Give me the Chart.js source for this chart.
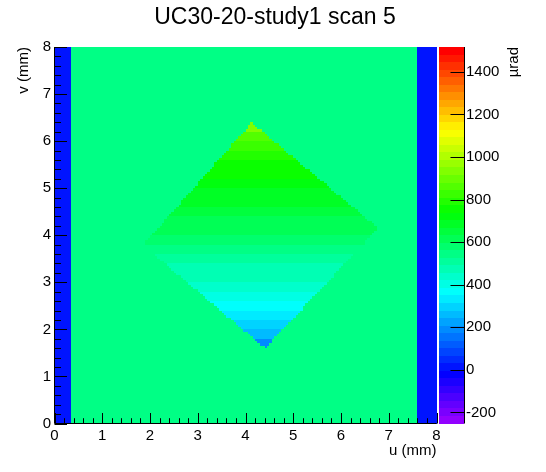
<!DOCTYPE html>
<html>
<head>
<meta charset="utf-8">
<script src="https://cdn.jsdelivr.net/npm/chart.js@4.4.0/dist/chart.umd.min.js"></script>
<style>
  html, body { margin: 0; padding: 0; background: #fff; }
  canvas { display: block; }
</style>
</head>
<body>
<canvas id="scan" width="546" height="472"></canvas>
<script>
// axis ticks
const uTicks = [0, 1, 2, 3, 4, 5, 6, 7, 8];
const vTicks = [0, 1, 2, 3, 4, 5, 6, 7, 8];
const zTicks = [-200, 0, 200, 400, 600, 800, 1000, 1200, 1400];
const zRange = [-252, 1517];
const nBins = 160; // 0.05 mm bins in u and v

// flat parts of the scan (µrad)
const backgroundLevel = 560;
const stripEdges = [0.36, 7.62]; // blue strips left / right of these u
const stripLevel = 10;

// diamond corners: top, right, bottom, left
const diamondU = [4.13, 6.78, 4.41, 1.85];
const diamondV = [6.39, 4.15, 1.60, 3.79];

// level inside the diamond, read along v
const profileV = [1.7, 1.9, 2.1, 2.3, 2.5, 2.7, 2.9, 3.1, 3.3, 3.5, 3.7, 3.9,
                  4.1, 4.3, 4.5, 4.7, 4.9, 5.1, 5.3, 5.5, 5.7, 5.9, 6.1, 6.3];
const profileLevel = [190, 250, 290, 320, 370, 400, 430, 460, 490, 510, 540, 570,
                      600, 625, 650, 670, 700, 720, 745, 770, 800, 830, 870, 930];

const FONT = '"Liberation Sans", Arial, Helvetica, sans-serif';

// old ROOT "pretty" palette, 50 colours
function hueChan(h) {
  h = ((h % 360) + 360) % 360;
  if (h < 60) return h / 60;
  if (h < 180) return 1;
  if (h < 240) return (240 - h) / 60;
  return 0;
}
const palette = [];
for (let i = 0; i < 49; i++) {
  const h = 280 - (i + 1) * 280 / 50;
  const r = Math.round(255 * hueChan(h + 120));
  const g = Math.round(255 * hueChan(h));
  const b = Math.round(255 * hueChan(h - 120));
  palette.push(`rgb(${r},${g},${b})`);
}
palette.push('rgb(255,0,0)');

function colorFor(z) {
  let k = Math.floor((z - zRange[0]) / (zRange[1] - zRange[0]) * palette.length);
  k = Math.max(0, Math.min(palette.length - 1, k));
  return palette[k];
}

function inDiamond(u, v) {
  let inside = false;
  for (let i = 0, j = diamondU.length - 1; i < diamondU.length; j = i++) {
    const ui = diamondU[i], vi = diamondV[i], uj = diamondU[j], vj = diamondV[j];
    if ((vi > v) !== (vj > v) && u < (uj - ui) * (v - vi) / (vj - vi) + ui) inside = !inside;
  }
  return inside;
}

function cellLevel(u, v) {
  if (u < stripEdges[0] || u > stripEdges[1]) return stripLevel;
  if (inDiamond(u, v)) {
    let best = 0;
    for (let k = 1; k < profileV.length; k++) {
      if (Math.abs(profileV[k] - v) < Math.abs(profileV[best] - v)) best = k;
    }
    return profileLevel[best];
  }
  return backgroundLevel;
}

const heatmap = {
  id: 'heatmap',
  beforeDatasetsDraw(chart) {
    const { ctx, scales: { x, y } } = chart;
    const w = 8 / nBins;
    ctx.save();
    for (let i = 0; i < nBins; i++) {
      const u0 = i * w;
      const px0 = Math.round(x.getPixelForValue(u0));
      const px1 = Math.round(x.getPixelForValue(u0 + w));
      for (let j = 0; j < nBins; j++) {
        const v0 = j * w;
        const py0 = Math.round(y.getPixelForValue(v0));
        const py1 = Math.round(y.getPixelForValue(v0 + w));
        ctx.fillStyle = colorFor(cellLevel(u0 + w / 2, v0 + w / 2));
        ctx.fillRect(px0, py1, px1 - px0, py0 - py1);
      }
    }
    ctx.restore();
  }
};

const frame = {
  id: 'frame',
  afterDraw(chart) {
    const { ctx, chartArea: a, scales: { x, y, z } } = chart;
    ctx.save();
    ctx.strokeStyle = '#000';
    ctx.fillStyle = '#000';
    ctx.lineWidth = 1;

    // axis lines
    ctx.beginPath();
    ctx.moveTo(a.left, a.top); ctx.lineTo(a.left, a.bottom); ctx.lineTo(a.right, a.bottom);
    ctx.stroke();

    // ticks, 5 subdivisions
    ctx.beginPath();
    for (let k = 0; k < uTicks.length; k++) {
      const px = Math.round(x.getPixelForValue(uTicks[k])) + 0.5;
      ctx.moveTo(px, a.bottom); ctx.lineTo(px, a.bottom - 10.5);
      if (k < uTicks.length - 1) {
        for (let m = 1; m < 5; m++) {
          const q = Math.round(x.getPixelForValue(uTicks[k] + m * (uTicks[k + 1] - uTicks[k]) / 5)) + 0.5;
          ctx.moveTo(q, a.bottom); ctx.lineTo(q, a.bottom - 5.3);
        }
      }
    }
    for (let k = 0; k < vTicks.length; k++) {
      const py = Math.round(y.getPixelForValue(vTicks[k])) + 0.5;
      ctx.moveTo(a.left, py); ctx.lineTo(a.left + 12.5, py);
      if (k < vTicks.length - 1) {
        for (let m = 1; m < 5; m++) {
          const q = Math.round(y.getPixelForValue(vTicks[k] + m * (vTicks[k + 1] - vTicks[k]) / 5)) + 0.5;
          ctx.moveTo(a.left, q); ctx.lineTo(a.left + 6.5, q);
        }
      }
    }
    ctx.stroke();

    // tick labels
    ctx.font = '15px ' + FONT;
    ctx.textAlign = 'center';
    ctx.textBaseline = 'alphabetic';
    uTicks.forEach(t => ctx.fillText(String(t), x.getPixelForValue(t), 440));
    ctx.textAlign = 'right';
    ctx.textBaseline = 'middle';
    vTicks.forEach(t => ctx.fillText(String(t), 51, y.getPixelForValue(t)));

    // axis titles
    ctx.textAlign = 'right';
    ctx.textBaseline = 'alphabetic';
    ctx.fillText('u (mm)', a.right, 455);
    ctx.save();
    ctx.translate(28, a.top);
    ctx.rotate(-Math.PI / 2);
    ctx.fillText('v (mm)', 0, 0);
    ctx.restore();

    // colour bar
    const barL = 439, barR = 464;
    const step = (zRange[1] - zRange[0]) / palette.length;
    for (let k = 0; k < palette.length; k++) {
      const top = Math.round(z.getPixelForValue(zRange[0] + (k + 1) * step));
      const bot = Math.round(z.getPixelForValue(zRange[0] + k * step));
      ctx.fillStyle = palette[k];
      ctx.fillRect(barL, top, barR - barL, bot - top);
    }
    ctx.fillStyle = '#000';
    ctx.beginPath();
    ctx.moveTo(barR + 0.5, a.top); ctx.lineTo(barR + 0.5, a.bottom);
    zTicks.forEach(t => {
      const py = Math.round(z.getPixelForValue(t)) + 0.5;
      ctx.moveTo(barR + 0.5, py); ctx.lineTo(barR - 13.5, py);
    });
    ctx.stroke();
    ctx.textAlign = 'left';
    ctx.textBaseline = 'middle';
    zTicks.forEach(t => ctx.fillText(String(t), 466, z.getPixelForValue(t)));
    ctx.save();
    ctx.translate(518, a.top);
    ctx.rotate(-Math.PI / 2);
    ctx.textAlign = 'right';
    ctx.textBaseline = 'alphabetic';
    ctx.fillText('µrad', 0, 0);
    ctx.restore();

    // title
    ctx.font = '23px ' + FONT;
    ctx.textAlign = 'center';
    ctx.textBaseline = 'alphabetic';
    ctx.fillText('UC30-20-study1 scan 5', 275, 24);
    ctx.restore();
  }
};

new Chart(document.getElementById('scan'), {
  type: 'scatter',
  data: { datasets: [{ data: [] }] },
  options: {
    responsive: false,
    animation: false,
    devicePixelRatio: 1,
    layout: { padding: { left: 54.5, top: 47, right: 109.5, bottom: 48.5 } },
    plugins: { legend: { display: false }, tooltip: { enabled: false }, title: { display: false } },
    scales: {
      x: { type: 'linear', min: 0, max: 8, display: false },
      y: { type: 'linear', min: 0, max: 8, display: false },
      z: { type: 'linear', axis: 'y', min: zRange[0], max: zRange[1], display: false }
    }
  },
  plugins: [heatmap, frame]
});
</script>
</body>
</html>
